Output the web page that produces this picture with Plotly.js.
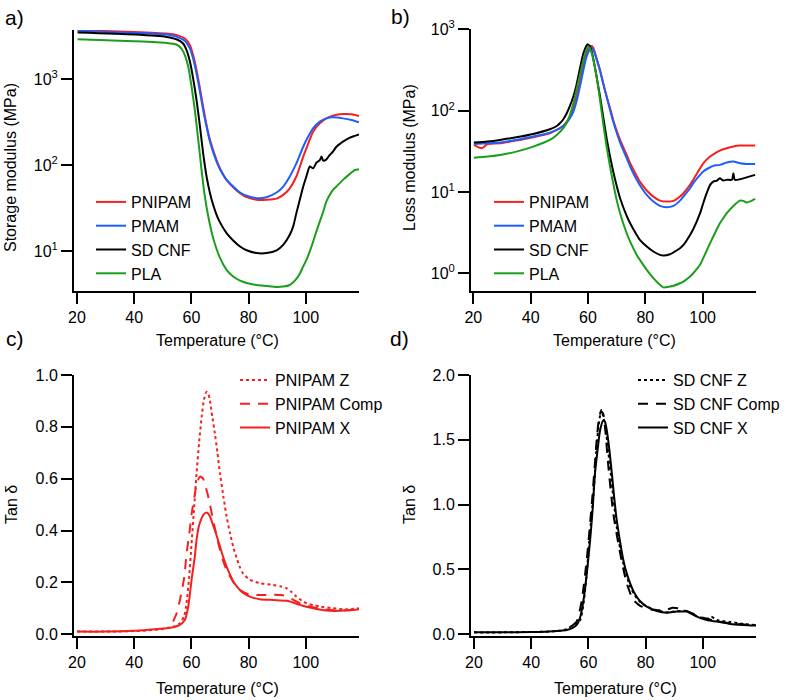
<!DOCTYPE html>
<html>
<head>
<meta charset="utf-8">
<script src="https://cdn.plot.ly/plotly-3.0.1.min.js"></script>
<style>html,body{margin:0;padding:0;background:#fff;}#chart{width:797px;height:700px;}</style>
</head>
<body>
<div id="chart"></div>
<script>
// ---------- Panel a: storage modulus (MPa) ----------
var tA_PNIPAM = [20.2,40,51.3,55,57.7,59.5,60.6,61.8,63,64.1,65.3,66.5,68.8,70,72.3,74.6,77,79.3,82.8,86.3,89.8,92.1,94.4,96.7,99.1,100.2,102.6,104.9,107.2,109.5,113,116,118.6];
var eA_PNIPAM = [3700,3530,3380,3240,2960,2480,1900,1270,777,478,293,196,115,92,67.6,55.6,47.4,42.6,39.8,39.8,41,45.3,54,74,126,157,246,306,350,376,393,390,372];
var tA_PMAM = [20.2,40,51.3,55,57.7,59.5,60.6,61.8,63,64.1,65.3,66.5,68.8,70,72.3,74.6,77,79.3,82.8,86.3,89.8,92.1,94.4,96.7,99.1,100.2,102.6,104.9,107.2,109.5,113,116,118.6];
var eA_PMAM = [3630,3440,3290,3090,2780,2260,1730,1160,713,437,280,188,110,90,67.6,56.6,48.2,44.2,41.5,42.6,48.2,56.6,74,105,164,196,269,321,350,360,350,335,315];
var tA_SDCNF = [20.2,40,51.3,55,57.1,58.3,59.5,60.6,61.8,63,64.1,65.3,66.5,67.6,68.8,70,72.3,74.6,77,79.3,82.8,86.3,89.8,92.1,94.4,95.6,96.7,97.9,99.1,100.2,101.4,102.6,103.7,104.9,105.5,106.1,107.2,108.4,109.5,110.7,113,115.4,118.6];
var eA_SDCNF = [3470,3290,3090,2880,2590,2170,1590,1020,571,280,138,74,47.4,34.7,26.6,21.7,16.3,13.4,11.4,10.3,9.56,9.56,10.3,11.9,15.6,19.5,27.8,39.8,56.6,74,96.6,92,107,115,126,113,117,132,144,164,188,209,228];
var tA_PLA = [20.2,40,51.3,54.8,56.5,57.7,58.9,60.06,61.2,62.4,63.55,64.7,65.9,67.6,70,72.3,74.6,77,79.3,82.8,86.3,89.8,92.1,94.4,95.6,96.7,97.9,99.1,100.2,101.4,102.6,103.7,104.9,106.1,107.2,108.4,109.5,110.7,113,115.4,117.2,118.6];
var eA_PLA = [2900,2750,2630,2520,2260,1900,1390,815,437,196,88,43.4,25.4,14.3,8.4,6.1,5.1,4.57,4.3,4.07,3.96,3.86,3.9,4.07,4.37,4.79,5.5,6.7,7.95,10,13.1,17.1,22.3,29,38,45.3,51.8,56.6,67.6,79.4,88,90];

// ---------- Panel b: loss modulus (MPa) ----------
var tB_PNIPAM = [20.2,23,25,29.3,35,40.9,46.7,49.1,51.4,52.6,53.7,54.9,56,57.2,58.4,59.5,60.7,61.3,61.9,63,64.2,65.3,66.5,67.7,68.8,70,71.2,73.5,74.7,77,78.1,80.5,82.8,85.1,87.4,89.8,92.1,93.3,95.6,96.7,99.1,100.2,102.6,103.7,106,108.4,110.7,113,115.3,118.3];
var gB_PNIPAM = [37.9,34.4,38.9,39.6,42.8,47,52.6,57.8,64.7,73.3,84.4,107,149,227,364,507,612,624,584,440,316,217,149,107,76.8,56.8,43.6,28.5,22.5,15.7,13.4,10.4,8.76,7.82,7.6,7.75,8.76,9.64,12.2,14.1,19.5,22.5,27.2,29,32.2,34.4,36.1,37.1,37.1,37.1];
var tB_PMAM = [20.2,29.3,35,40.9,46.7,50.2,52.6,53.7,54.9,56,57.2,58.4,59.5,60.7,61.3,61.9,63,64.2,65.3,66.5,67.7,68.8,70,71.2,73.5,74.7,77,78.1,80.5,82.8,85.1,87.4,89.8,92.1,93.3,95.6,96.7,99.1,100.2,102.6,103.7,106,108.4,110.7,113,115.3,118.3];
var gB_PMAM = [38.9,40.4,43.6,47.9,53.6,60.7,71.2,80.5,97.3,129,197,316,461,568,584,557,427,310,217,149,102,73.3,53.7,40.4,26,20.5,14.1,12.1,9.19,7.6,6.73,6.48,6.73,7.82,8.76,11.1,12.8,16.2,17.8,20.1,20.9,21.5,23,23.6,22.5,22.1,22.1];
var tB_SDCNF = [20.2,25,29.3,35,40.9,46.7,49.1,50.2,51.4,52.6,53.7,54.9,56,57.2,58.4,59.5,59.9,60.7,61.3,61.9,63,64.2,65.3,66.5,67.7,68.8,70,71.2,73.5,74.7,77,78.1,80.5,82.8,85.1,86.3,88.6,89.8,92.1,93.3,95.6,96.7,99.1,100.2,101.4,102.6,103.7,105,106,107.2,108.4,110.2,110.7,111.2,113,115.3,118.3];
var gB_SDCNF = [40.4,41.7,43.6,47,51.6,58.9,64.7,69.8,78.2,92.7,114,149,207,331,507,631,655,612,531,427,262,149,84.4,45.7,27.2,17.8,11.9,8.36,5.07,4.12,2.96,2.57,2.13,1.85,1.68,1.65,1.71,1.8,2.03,2.23,2.96,3.47,5.47,7.26,9.64,12.2,13.4,13.8,14.7,13.8,14.1,14.1,17,14.1,14.3,15.1,16.2];
var tB_PLA = [20.2,25,29.3,35,40.9,46.7,49.1,51.4,52.6,53.7,54.9,56,57.2,58.4,59.5,60.1,60.7,61.3,61.9,63,64.2,65.3,66.5,67.7,68.8,70,71.2,73.5,74.7,77,78.1,80.5,82.8,85.1,86.3,88.6,89.8,92.1,93.3,95.6,96.7,99.1,100.2,102.6,103.7,106,107.2,108.4,110.7,113,114.2,115.3,117,118.3];
var gB_PLA = [26.4,27.2,28.5,31.3,36.1,43.6,50.2,60.7,71.2,88.4,123,180,275,420,557,612,584,507,420,262,135,69.8,36.1,20.5,12.8,7.98,5.47,3.1,2.45,1.68,1.46,1.1,0.87,0.72,0.67,0.686,0.7,0.753,0.79,0.91,1.0,1.27,1.53,2.34,2.83,4.12,4.75,5.47,6.73,7.82,7.75,7.4,7.75,8.2];

// ---------- Panel c: tan delta, PNIPAM ----------
var tC_Z = [20,30,40,45,50,52,54,56,57.5,58.3,59.2,60,60.9,61.8,62.7,63.6,64.4,65.3,66,66.5,67.3,68.2,69.1,70,71.2,72.3,73.5,74.6,75.8,76.9,78,80.4,83.9,88.6,91,93.3,95,96.7,98.5,100.2,102.6,104.9,109.5,114,118.6];
var tanC_Z = [0.01,0.01,0.012,0.015,0.02,0.025,0.03,0.042,0.07,0.12,0.22,0.34,0.48,0.62,0.74,0.84,0.905,0.935,0.925,0.9,0.84,0.775,0.7,0.62,0.53,0.454,0.39,0.338,0.295,0.26,0.235,0.21,0.197,0.19,0.185,0.177,0.163,0.145,0.13,0.12,0.112,0.107,0.1,0.096,0.1];
var tC_Comp = [53.6,54.8,56,57.5,58.3,59.4,60.1,61.2,61.8,63,64.1,64.7,65.9,67.6,68.8,70,71.2,72.3,74.6,76.9,80.4,83.9,88.6,92,94.4,97.9,101.4,106.1,110.7,114,118.6];
var tanC_Comp = [0.049,0.08,0.132,0.22,0.31,0.4,0.466,0.54,0.58,0.608,0.6,0.58,0.53,0.44,0.38,0.325,0.28,0.248,0.203,0.171,0.152,0.151,0.152,0.15,0.139,0.12,0.107,0.096,0.091,0.092,0.096];
var tC_X = [20,30,40,45,51.3,53.6,56,57.7,58.9,60.06,61.2,61.8,62.7,63.55,64.4,65.1,65.9,66.5,67.6,68.2,69.1,70,71.2,72.3,73.5,74.6,75.8,76.9,78,80.4,83.9,88.6,93.3,95.6,97.9,100.2,102.6,107.2,111.9,115,118.6];
var tanC_X = [0.01,0.01,0.013,0.017,0.023,0.027,0.036,0.055,0.107,0.21,0.3,0.364,0.42,0.447,0.463,0.469,0.465,0.454,0.42,0.402,0.37,0.338,0.295,0.261,0.23,0.203,0.185,0.171,0.16,0.145,0.135,0.132,0.129,0.122,0.113,0.106,0.1,0.091,0.09,0.092,0.096];

// ---------- Panel d: tan delta, SD CNF ----------
var tD_Z = [20,30,40,45,50,52.4,54.5,57.1,58.3,59.4,60.6,61.2,62.3,62.9,63.5,64.1,64.5,65.2,66.4,67,68.2,69.9,71.1,72.2,73.4,74.6,76.9,78.1,80.4,83.9,87.4,90.9,94.4,97.9,101.4,103,104.9,109.6,114.2,118.7];
var tanD_Z = [0.015,0.015,0.018,0.02,0.027,0.04,0.07,0.11,0.24,0.47,0.8,0.93,1.25,1.45,1.6,1.69,1.73,1.68,1.52,1.4,1.16,0.83,0.66,0.547,0.45,0.368,0.278,0.25,0.215,0.185,0.17,0.178,0.18,0.14,0.12,0.135,0.11,0.095,0.08,0.07];
var tD_Comp = [54,55.9,57.7,59.4,61.2,62.9,63.6,64.4,65.2,65.8,67,68.7,71.1,73.4,75.7,78.1,80.4,83.9,87.4,89.5,91.5,94.4,97.9,101.4,104.9,109.6,114.2,118.7];
var tanD_Comp = [0.06,0.098,0.265,0.573,1.01,1.5,1.65,1.72,1.7,1.6,1.29,0.93,0.625,0.393,0.265,0.22,0.2,0.185,0.19,0.205,0.2,0.18,0.145,0.12,0.1,0.085,0.075,0.07];
var tD_X = [20,30,40,45,50,52.4,54.5,55.9,57.1,58.3,59.4,60.6,61.5,62.3,63.2,64.1,65.2,65.8,66.4,67.3,68.2,69,69.9,71.1,72.2,73.4,74.6,75.7,76.9,78.1,80.4,83.9,87.4,90.9,94.4,96,97.9,101.4,104.9,109.6,114.2,118.7];
var tanD_X = [0.015,0.015,0.018,0.02,0.027,0.033,0.05,0.072,0.13,0.265,0.46,0.727,0.97,1.24,1.42,1.576,1.65,1.64,1.576,1.43,1.24,1.06,0.88,0.71,0.573,0.47,0.393,0.335,0.29,0.255,0.213,0.18,0.167,0.175,0.175,0.158,0.136,0.11,0.098,0.08,0.072,0.067];

// labels
var seriesAB = ['PNIPAM','PMAM','SD CNF','PLA'];
var seriesC = ['PNIPAM Z','PNIPAM Comp','PNIPAM X'];
var seriesD = ['SD CNF Z','SD CNF Comp','SD CNF X'];
var tempTicks = [20,40,60,80,100];

var RED = '#f5201e', BLUE = '#1d5eff', BLACK = '#000000', GREEN = '#1b9e1b';
var FONT = 'Liberation Sans, Arial, Helvetica, sans-serif';

function tr(x, y, name, color, dash, xa, ya, leg) {
  return {x: x, y: y, name: name, type: 'scatter', mode: 'lines',
    line: {color: color, width: 2, dash: dash, shape: 'spline', smoothing: 0.6},
    xaxis: xa, yaxis: ya, legend: leg, hoverinfo: 'skip'};
}

var data = [
  tr(tA_PNIPAM, eA_PNIPAM, seriesAB[0], RED, 'solid', 'x', 'y', 'legend'),
  tr(tA_PMAM, eA_PMAM, seriesAB[1], BLUE, 'solid', 'x', 'y', 'legend'),
  tr(tA_SDCNF, eA_SDCNF, seriesAB[2], BLACK, 'solid', 'x', 'y', 'legend'),
  tr(tA_PLA, eA_PLA, seriesAB[3], GREEN, 'solid', 'x', 'y', 'legend'),
  tr(tB_PNIPAM, gB_PNIPAM, seriesAB[0], RED, 'solid', 'x2', 'y2', 'legend2'),
  tr(tB_PMAM, gB_PMAM, seriesAB[1], BLUE, 'solid', 'x2', 'y2', 'legend2'),
  tr(tB_SDCNF, gB_SDCNF, seriesAB[2], BLACK, 'solid', 'x2', 'y2', 'legend2'),
  tr(tB_PLA, gB_PLA, seriesAB[3], GREEN, 'solid', 'x2', 'y2', 'legend2'),
  tr(tC_Z, tanC_Z, seriesC[0], RED, 'dot', 'x3', 'y3', 'legend3'),
  tr(tC_Comp, tanC_Comp, seriesC[1], RED, '10px,8px', 'x3', 'y3', 'legend3'),
  tr(tC_X, tanC_X, seriesC[2], RED, 'solid', 'x3', 'y3', 'legend3'),
  tr(tD_Z, tanD_Z, seriesD[0], BLACK, 'dot', 'x4', 'y4', 'legend4'),
  tr(tD_Comp, tanD_Comp, seriesD[1], BLACK, '10px,8px', 'x4', 'y4', 'legend4'),
  tr(tD_X, tanD_X, seriesD[2], BLACK, 'solid', 'x4', 'y4', 'legend4')
];

var W = 797, H = 700;
function px(x) { return x / W; }
function py(y) { return 1 - y / H; }

function axisBase(extra) {
  var a = {showline: true, linecolor: '#000', linewidth: 2, ticks: 'outside', ticklen: 11,
    tickwidth: 2, tickcolor: '#000', showgrid: false, zeroline: false,
    tickfont: {family: FONT, size: 16, color: '#000'}, fixedrange: true};
  for (var k in extra) a[k] = extra[k];
  return a;
}

function xAx(dom, range, anchor) {
  return axisBase({domain: dom, range: range, anchor: anchor, tickvals: tempTicks});
}

function legendBox(xp, yp) {
  return {x: px(xp), y: py(yp), xanchor: 'left', yanchor: 'top', bgcolor: 'rgba(0,0,0,0)',
    borderwidth: 0, font: {family: FONT, size: 16, color: '#000'}, traceorder: 'normal'};
}

function ann(text, x, y, size, angle) {
  return {text: text, x: px(x), y: py(y), xref: 'paper', yref: 'paper', showarrow: false,
    xanchor: 'center', yanchor: 'middle', textangle: angle || 0,
    font: {family: FONT, size: size, color: '#000'}};
}

var layout = {
  width: W, height: H, margin: {l: 0, r: 0, t: 0, b: 0},
  paper_bgcolor: '#fff', plot_bgcolor: 'rgba(0,0,0,0)',
  font: {family: FONT, size: 16, color: '#000'},
  showlegend: true,
  xaxis: xAx([px(74), px(359)], [18.95, 118.6], 'y'),
  yaxis: axisBase({domain: [py(291), py(30)], type: 'log', range: [0.54, 3.57], anchor: 'x',
    tickvals: [10, 100, 1000], ticktext: ['10<sup>1</sup>', '10<sup>2</sup>', '10<sup>3</sup>']}),
  xaxis2: xAx([px(471), px(756)], [19.2, 118.6], 'y2'),
  yaxis2: axisBase({domain: [py(290.7), py(29.3)], type: 'log', range: [-0.215, 3], anchor: 'x2',
    tickvals: [1, 10, 100, 1000], ticktext: ['10<sup>0</sup>', '10<sup>1</sup>', '10<sup>2</sup>', '10<sup>3</sup>']}),
  xaxis3: xAx([px(74), px(359)], [18.95, 118.6], 'y3'),
  yaxis3: axisBase({domain: [py(636), py(375)], range: [-0.007, 1.0], anchor: 'x3',
    tickvals: [0, 0.2, 0.4, 0.6, 0.8, 1.0], tickformat: '.1f'}),
  xaxis4: xAx([px(471), px(756)], [18.95, 118.6], 'y4'),
  yaxis4: axisBase({domain: [py(636), py(375)], range: [-0.013, 2.0], anchor: 'x4',
    tickvals: [0, 0.5, 1.0, 1.5, 2.0], tickformat: '.1f'}),
  legend: legendBox(91, 185),
  legend2: legendBox(489, 185),
  legend3: legendBox(235, 363),
  legend4: legendBox(633, 363),
  annotations: [
    ann('a)', 15, 18, 21), ann('b)', 400, 16, 21), ann('c)', 15, 339, 21), ann('d)', 399, 339, 21),
    ann('Storage modulus (MPa)', 10, 168, 16, -90),
    ann('Loss modulus (MPa)', 409, 158, 16, -90),
    ann('Tan δ', 11, 505, 16, -90),
    ann('Tan δ', 409, 505, 16, -90),
    ann('Temperature (°C)', 218, 341, 16),
    ann('Temperature (°C)', 614, 341, 16),
    ann('Temperature (°C)', 218, 688, 16),
    ann('Temperature (°C)', 615, 688, 16)
  ]
};

Plotly.newPlot('chart', data, layout, {displayModeBar: false, staticPlot: true});
</script>
</body>
</html>
